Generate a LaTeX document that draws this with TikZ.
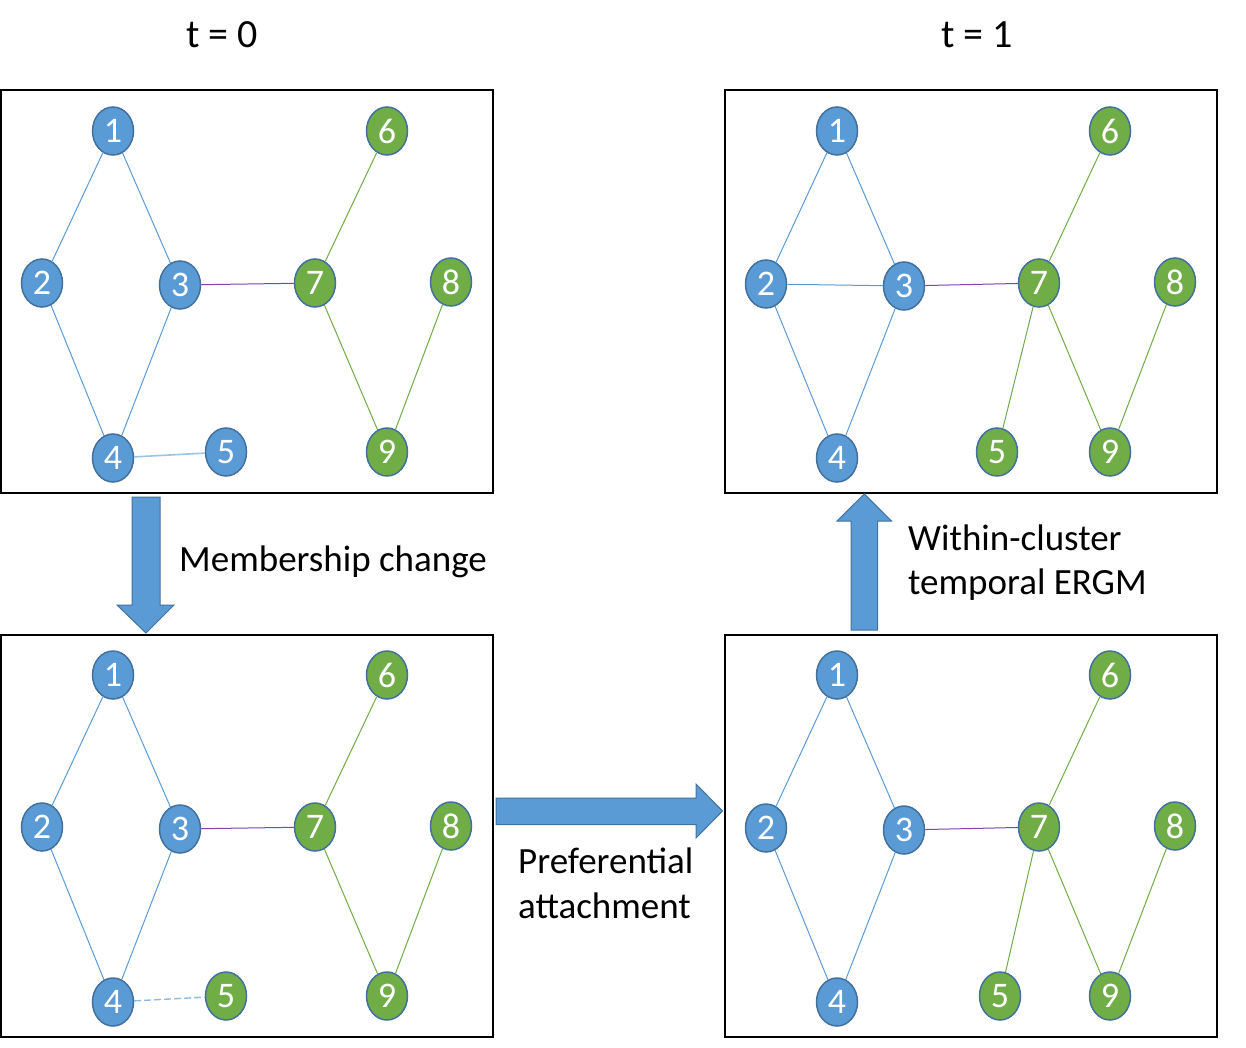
\documentclass[tikz,border=0pt]{standalone}
\usepackage{fontspec}
\setmainfont{Carlito}
\usetikzlibrary{shapes.geometric}
\definecolor{nblue}{HTML}{5B9BD5}
\definecolor{ngreen}{HTML}{70AD47}
\definecolor{nborder}{HTML}{41719C}
\definecolor{epurple}{HTML}{7E44B0}
\definecolor{elight}{HTML}{9DC3E6}
\tikzset{
  vtx/.style={ellipse, minimum width=41pt, minimum height=48pt, inner sep=0pt,
    draw=nborder, line width=1.5pt, text=white, font=\fontsize{36}{42}\selectfont},
  bv/.style={vtx, fill=nblue},
  gv/.style={vtx, fill=ngreen},
  be/.style={draw=nblue, line width=1pt},
  ge/.style={draw=ngreen, line width=1pt},
  pe/.style={draw=epurple, line width=1pt},
  le/.style={draw=elight, line width=1.6pt},
  de/.style={draw=elight!80!nblue, line width=1.4pt, dash pattern=on 7pt off 3pt},
  panel/.style={draw=black, line width=2pt},
  bigarrow/.style={fill=nblue, draw=nborder, line width=1pt},
  lbl/.style={anchor=base west, inner sep=0pt, font=\fontsize{37}{44}\selectfont},
  ttl/.style={anchor=base, inner sep=0pt, font=\fontsize{40}{48}\selectfont}
}
\begin{document}
\begin{tikzpicture}[x=1pt,y=-1pt]
\useasboundingbox (0,0) rectangle (1246,1048);
% titles
\node[ttl] (t0) at (222,48) {t = 0};
\node[ttl] (t1) at (977,48) {t = 1};
% panels
\draw[panel] (1,90) rectangle (493,493);
\draw[panel] (1,635) rectangle (493,1037);
\draw[panel] (725,90) rectangle (1217,493);
\draw[panel] (725,635) rectangle (1217,1037);
% panel A (top-left)
\node[bv] (a1) at (113,131) {1};
\node[bv] (a2) at (42,283) {2};
\node[bv] (a3) at (180,285) {3};
\node[bv] (a4) at (113,458) {4};
\node[bv] (a5) at (226,452) {5};
\node[gv] (a6) at (387,131) {6};
\node[gv] (a7) at (315,283) {7};
\node[gv] (a8) at (451,282) {8};
\node[gv] (a9) at (387,452) {9};
\draw[be] (a1) -- (a2);
\draw[be] (a1) -- (a3);
\draw[be] (a2) -- (a4);
\draw[be] (a3) -- (a4);
\draw[le] (a4) -- (a5);
\draw[pe] (a3) -- (a7);
\draw[ge] (a6) -- (a7);
\draw[ge] (a7) -- (a9);
\draw[ge] (a8) -- (a9);
% panel B (bottom-left)
\node[bv] (b1) at (113,675) {1};
\node[bv] (b2) at (42,827) {2};
\node[bv] (b3) at (180,829) {3};
\node[bv] (b4) at (113,1002) {4};
\node[gv] (b5) at (226,996) {5};
\node[gv] (b6) at (387,675) {6};
\node[gv] (b7) at (315,827) {7};
\node[gv] (b8) at (451,826) {8};
\node[gv] (b9) at (387,996) {9};
\draw[be] (b1) -- (b2);
\draw[be] (b1) -- (b3);
\draw[be] (b2) -- (b4);
\draw[be] (b3) -- (b4);
\draw[de] (b4) -- (b5);
\draw[pe] (b3) -- (b7);
\draw[ge] (b6) -- (b7);
\draw[ge] (b7) -- (b9);
\draw[ge] (b8) -- (b9);
% panel C (top-right)
\node[bv] (c1) at (837,131) {1};
\node[bv] (c2) at (766,284) {2};
\node[bv] (c3) at (904,286) {3};
\node[bv] (c4) at (837,458) {4};
\node[gv] (c5) at (997,452) {5};
\node[gv] (c6) at (1110,131) {6};
\node[gv] (c7) at (1039,283) {7};
\node[gv] (c8) at (1175,282) {8};
\node[gv] (c9) at (1110,452) {9};
\draw[be] (c1) -- (c2);
\draw[be] (c1) -- (c3);
\draw[be] (c2) -- (c3);
\draw[be] (c2) -- (c4);
\draw[be] (c3) -- (c4);
\draw[pe] (c3) -- (c7);
\draw[ge] (c6) -- (c7);
\draw[ge] (c7) -- (c5);
\draw[ge] (c7) -- (c9);
\draw[ge] (c8) -- (c9);
% panel D (bottom-right)
\node[bv] (d1) at (837,675) {1};
\node[bv] (d2) at (766,828) {2};
\node[bv] (d3) at (904,830) {3};
\node[bv] (d4) at (837,1002) {4};
\node[gv] (d5) at (1000,996) {5};
\node[gv] (d6) at (1110,675) {6};
\node[gv] (d7) at (1039,827) {7};
\node[gv] (d8) at (1175,826) {8};
\node[gv] (d9) at (1110,996) {9};
\draw[be] (d1) -- (d2);
\draw[be] (d1) -- (d3);
\draw[be] (d2) -- (d4);
\draw[be] (d3) -- (d4);
\draw[pe] (d3) -- (d7);
\draw[ge] (d6) -- (d7);
\draw[ge] (d7) -- (d5);
\draw[ge] (d7) -- (d9);
\draw[ge] (d8) -- (d9);
% block arrows
\draw[bigarrow] (132,497) -- (160,497) -- (160,605) -- (174,605) -- (146,633)
  -- (117,605) -- (132,605) -- cycle;
\draw[bigarrow] (496,798) -- (696,798) -- (696,784) -- (722.5,811) -- (696,838)
  -- (696,824.5) -- (496,824.5) -- cycle;
\draw[bigarrow] (851,630) -- (851,521) -- (837,521) -- (864.3,494) -- (891.5,521)
  -- (877.7,521) -- (877.7,630) -- cycle;
% labels
\node[lbl] (m) at (179,571.7) {Membership change};
\node[lbl] (p1) at (518,873.3) {Preferential};
\node[lbl] (p2) at (518,918.3) {attachment};
\node[lbl] (w1) at (908,550) {Within-cluster};
\node[lbl] (w2) at (908,594) {temporal ERGM};
\end{tikzpicture}
\end{document}
